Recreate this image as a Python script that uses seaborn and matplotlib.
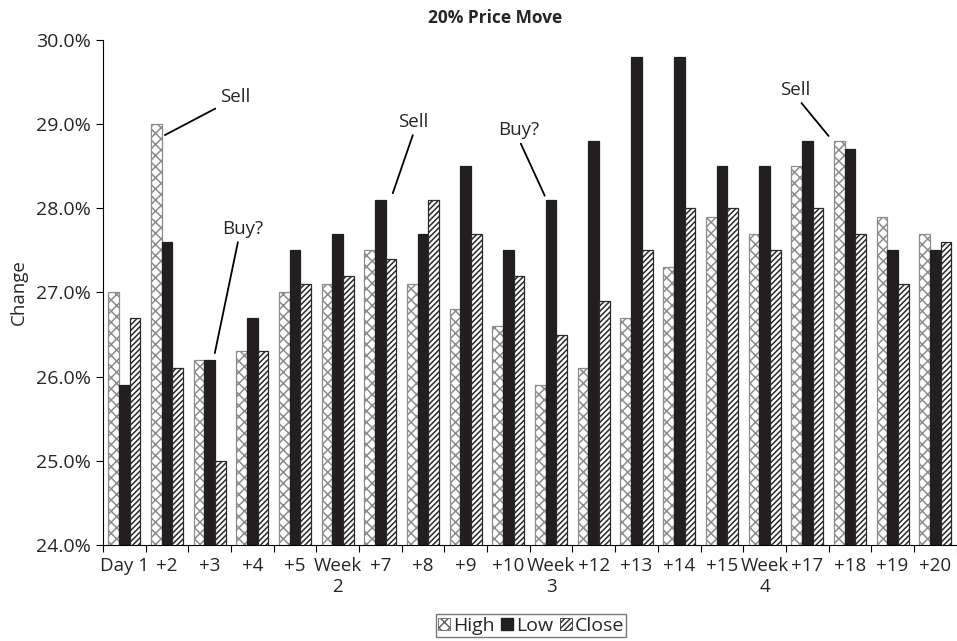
import pandas as pd
import matplotlib.pyplot as plt
import seaborn as sns
from matplotlib.patches import Patch
from matplotlib.ticker import FuncFormatter, FixedLocator

days = ["Day 1", "+2", "+3", "+4", "+5", "Week\n2", "+7", "+8", "+9", "+10",
        "Week\n3", "+12", "+13", "+14", "+15", "Week\n4", "+17", "+18", "+19", "+20"]
high = [27.0, 29.0, 26.2, 26.3, 27.0, 27.1, 27.5, 27.1, 26.8, 26.6,
        25.9, 26.1, 26.7, 27.3, 27.9, 27.7, 28.5, 28.8, 27.9, 27.7]
low = [25.9, 27.6, 26.2, 26.7, 27.5, 27.7, 28.1, 27.7, 28.5, 27.5,
       28.1, 28.8, 29.8, 29.8, 28.5, 28.5, 28.8, 28.7, 27.5, 27.5]
close = [26.7, 26.1, 25.0, 26.3, 27.1, 27.2, 27.4, 28.1, 27.7, 27.2,
         26.5, 26.9, 27.5, 28.0, 28.0, 27.5, 28.0, 27.7, 27.1, 27.6]
series = ["High", "Low", "Close"]

# label, text position, point the line goes to, where the line leaves the text
notes = [("Sell", (2.59, 29.32), (0.95, 28.87), (0.0, 0.0)),
         ("Buy?", (2.78, 27.76), (2.12, 26.28), (0.4, 0.0)),
         ("Sell", (6.76, 29.03), (6.29, 28.18), (0.55, 0.0)),
         ("Buy?", (9.24, 28.93), (9.85, 28.15), (0.5, 0.0)),
         ("Sell", (15.71, 29.41), (16.50, 28.86), (0.6, 0.0))]

df = pd.DataFrame({
    "Day": days * 3,
    "Series": [s for s in series for _ in days],
    "Change": high + low + close,
})

sns.set_style("white")
plt.rcParams["font.family"] = ["Open Sans", "DejaVu Sans"]
plt.rcParams["hatch.linewidth"] = 1.1

fig = plt.figure(figsize=(9.57, 6.41), dpi=100)
ax = fig.add_axes([0.1076, 0.1498, 0.892, 0.7878])

sns.barplot(data=df, x="Day", y="Change", hue="Series", hue_order=series,
            palette={"High": "white", "Low": "#231f20", "Close": "white"},
            width=0.75, saturation=1, legend=False, ax=ax)

# hatch and edge colour per series
styles = {"High": ("xxx", "#8c8c8c"),
          "Low": ("", "#231f20"),
          "Close": ("//////", "#2a2a2a")}
for cont, name in zip(ax.containers, series):
    hatch, ec = styles[name]
    for bar in cont:
        bar.set_hatch(hatch)
        bar.set_edgecolor(ec)
        bar.set_linewidth(0.9)

ax.set_ylim(24, 30)
ax.set_xlim(-0.5, len(days) - 0.5)
ax.set_yticks([24, 25, 26, 27, 28, 29, 30])
ax.yaxis.set_major_formatter(FuncFormatter(lambda v, p: f"{v:.1f}%"))
ax.xaxis.set_minor_locator(FixedLocator([i - 0.5 for i in range(len(days) + 1)]))
ax.tick_params(axis="x", which="major", length=0, labelsize=13.5, pad=9)
ax.tick_params(axis="x", which="minor", length=5, width=0.8, color="black", bottom=True)
ax.tick_params(axis="y", length=5, width=0.8, color="black", left=True, labelsize=14)
for lab in ax.get_xticklabels():
    lab.set_linespacing(1.15)

for side in ["top", "right"]:
    ax.spines[side].set_visible(False)
for side in ["left", "bottom"]:
    ax.spines[side].set_color("black")
    ax.spines[side].set_linewidth(0.8)

ax.set_xlabel("")
ax.set_ylabel("Change", fontsize=13.5, labelpad=6)
fig.text(0.517, 0.972, "20% Price Move", ha="center", va="center",
         fontsize=12.5, fontweight="bold")

for label, txt, pt, rel in notes:
    ax.annotate(label, xy=pt, xytext=txt, ha="center", va="center", fontsize=13.5,
                arrowprops=dict(arrowstyle="-", color="black", lw=1.3,
                                relpos=rel, shrinkA=1, shrinkB=0))

handles = [Patch(facecolor="white", edgecolor="#666666", hatch="xxx", lw=0.6),
           Patch(facecolor="#231f20", edgecolor="#231f20"),
           Patch(facecolor="white", edgecolor="#333333", hatch="//////", lw=0.6)]
fig.legend(handles, series, loc="center", bbox_to_anchor=(0.555, 0.024), ncol=3,
           fontsize=14, frameon=True, fancybox=False, edgecolor="#555555",
           handlelength=0.6, handleheight=0.6, handletextpad=0.15,
           columnspacing=0.35, borderpad=0.12, borderaxespad=0)

fig.savefig("out.png", dpi=100)
